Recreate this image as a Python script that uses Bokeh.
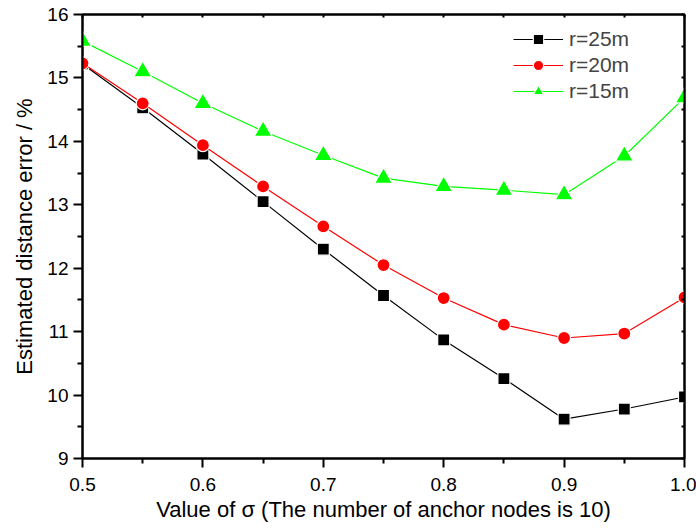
from bokeh.plotting import figure
from bokeh.models import (Legend, LegendItem, LinearAxis, FixedTicker,
                          PrintfTickFormatter, CustomJSTickFormatter, Range1d)
from bokeh.embed import file_html
from bokeh.resources import INLINE

sigma = [0.5, 0.55, 0.6, 0.65, 0.7, 0.75, 0.8, 0.85, 0.9, 0.95, 1.0]
err_r25 = [15.22, 14.53, 13.80, 13.05, 12.30, 11.57, 10.87, 10.26, 9.62, 9.78, 9.97]
err_r20 = [15.23, 14.60, 13.94, 13.29, 12.66, 12.05, 11.53, 11.11, 10.90, 10.97, 11.54]
err_r15 = [15.58, 15.10, 14.60, 14.16, 13.78, 13.42, 13.29, 13.23, 13.16, 13.77, 14.69]

x_ticks = [0.5, 0.6, 0.7, 0.8, 0.9, 1.0]
x_minor = [0.55, 0.65, 0.75, 0.85, 0.95]
y_ticks = [9, 10, 11, 12, 13, 14, 15, 16]
y_minor = [9.5, 10.5, 11.5, 12.5, 13.5, 14.5, 15.5]

FONT = "Liberation Sans"

p = figure(width=696, height=528, x_range=Range1d(0.5, 1.0), y_range=Range1d(9, 16),
           output_backend="svg", toolbar_location=None,
           min_border_left=82, min_border_right=12, min_border_top=14, min_border_bottom=70)
p.grid.visible = False
p.outline_line_color = "black"
p.outline_line_width = 2
p.background_fill_color = "white"
p.border_fill_color = "white"

xa = p.xaxis[0]
ya = p.yaxis[0]
xa.ticker = FixedTicker(ticks=x_ticks, minor_ticks=x_minor)
ya.ticker = FixedTicker(ticks=y_ticks, minor_ticks=y_minor)
xa.formatter = PrintfTickFormatter(format="%.1f")
ya.formatter = PrintfTickFormatter(format="%d")
xa.axis_label = "Value of σ (The number of anchor nodes is 10)"
ya.axis_label = "Estimated distance error / %"
for ax in (xa, ya):
    ax.axis_line_width = 2
    ax.axis_line_color = "black"
    ax.major_tick_line_width = 2
    ax.minor_tick_line_width = 2
    ax.major_tick_in = 0
    ax.major_tick_out = 9
    ax.minor_tick_in = 0
    ax.minor_tick_out = 5
    ax.major_label_text_font = FONT
    ax.major_label_text_font_size = "19px"
    ax.major_label_text_color = "black"
    ax.axis_label_text_font = FONT
    ax.axis_label_text_font_size = "22px"
    ax.axis_label_text_font_style = "normal"
    ax.axis_label_text_color = "black"
xa.major_label_standoff = 10
ya.major_label_standoff = 5
xa.axis_label_standoff = 3
ya.axis_label_standoff = 7

blank = CustomJSTickFormatter(code="return ''")
top = LinearAxis(ticker=FixedTicker(ticks=x_ticks, minor_ticks=x_minor), formatter=blank,
                 major_tick_in=3, major_tick_out=0, minor_tick_in=3, minor_tick_out=0,
                 axis_line_width=2, major_tick_line_width=2, minor_tick_line_width=2,
                 major_label_standoff=0)
right = LinearAxis(ticker=FixedTicker(ticks=y_ticks, minor_ticks=y_minor), formatter=blank,
                   major_tick_in=3, major_tick_out=0, minor_tick_in=3, minor_tick_out=0,
                   axis_line_width=2, major_tick_line_width=2, minor_tick_line_width=2,
                   major_label_standoff=0)
p.add_layout(top, "above")
p.add_layout(right, "right")

series = [
    ("r=25m", err_r25, "#000000", "square", 12),
    ("r=20m", err_r20, "#ff0000", "circle", 13),
    ("r=15m", err_r15, "#00ff00", "triangle", 18),
]
items = []
for label, ys, col, mk, sz in series:
    ln = p.line(sigma, ys, line_color=col, line_width=1.2)
    sc = p.scatter(sigma, ys, marker=mk, size=sz, fill_color=col,
                   line_color="white", line_width=1.2)
    items.append(LegendItem(label=label, renderers=[ln, sc]))

legend = Legend(items=items, location=(431, 354), padding=0, margin=0,
                border_line_alpha=0, background_fill_alpha=0,
                glyph_width=50, glyph_height=26, label_height=26, spacing=0,
                label_standoff=6, label_text_font=FONT, label_text_font_size="21px")
p.add_layout(legend)

open("out.html", "w").write(file_html(p, INLINE))
